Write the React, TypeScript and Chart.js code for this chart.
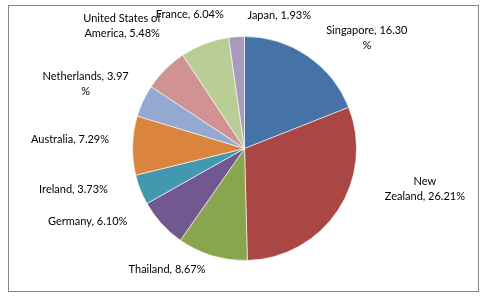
import React, { useEffect, useRef } from "react";
import { Chart, registerables } from "chart.js";

Chart.register(...registerables);

const categories = [
  "Singapore",
  "New Zealand",
  "Thailand",
  "Germany",
  "Ireland",
  "Australia",
  "Netherlands",
  "United States of America",
  "France",
  "Japan",
];
const values = [16.3, 26.21, 8.67, 6.1, 3.73, 7.29, 3.97, 5.48, 6.04, 1.93];
const colors = [
  "#4572A7",
  "#AA4643",
  "#89A54E",
  "#71588F",
  "#4198AF",
  "#DB843D",
  "#93A9CF",
  "#D19392",
  "#B9CD96",
  "#A99BBD",
];
// line break position in each label (character index; negative = from end; null = none)
const labelBreaks: (number | null)[] = [-1, 3, null, null, null, null, -1, 16, null, null];
// label placement: angle (deg, clockwise from top) and distance as multiple of radius
const labelAngles = [48, 102.5, 212.7, 245, 256.5, 273, 292, 315, 337.7, 14.6];
const labelDists = [1.47, 1.65, 1.28, 1.545, 1.57, 1.56, 1.53, 1.545, 1.29, 1.23];

const labelPlugin = {
  id: "excelLabels",
  afterDatasetsDraw(chart: any) {
    const meta = chart.getDatasetMeta(0);
    const ctx = chart.ctx;
    ctx.save();
    ctx.font = "11px Lato";
    ctx.fillStyle = "#000";
    ctx.textAlign = "center";
    ctx.textBaseline = "middle";
    meta.data.forEach((arc: any, i: number) => {
      const { x, y, outerRadius } = arc.getProps(["x", "y", "outerRadius"], true);
      const text = `${categories[i]}, ${values[i].toFixed(2)}%`;
      let lines = [text];
      const b = labelBreaks[i];
      if (b !== null) {
        const idx = b < 0 ? text.length + b : b;
        lines = [text.slice(0, idx).trim(), text.slice(idx).trim()];
      }
      const a = (labelAngles[i] * Math.PI) / 180;
      const d = labelDists[i] * outerRadius;
      const cx = x + d * Math.sin(a);
      const cy = y - d * Math.cos(a);
      const lh = 15;
      const y0 = cy - ((lines.length - 1) * lh) / 2;
      lines.forEach((ln, k) => ctx.fillText(ln, cx, y0 + k * lh));
    });
    ctx.restore();
  },
};

export default function App() {
  const ref = useRef<HTMLCanvasElement>(null);
  useEffect(() => {
    const chart = new Chart(ref.current!, {
      type: "pie",
      data: {
        labels: categories,
        datasets: [
          {
            data: values,
            backgroundColor: colors,
            borderColor: "rgba(255,255,255,0.6)",
            borderWidth: 1,
            radius: 112,
          },
        ],
      },
      options: {
        animation: false,
        responsive: false,
        layout: { padding: { top: 29, bottom: 29, left: 2, right: 0 } },
        plugins: {
          legend: { display: false },
          tooltip: { enabled: false },
        },
      },
      plugins: [labelPlugin],
    });
    return () => chart.destroy();
  }, []);
  return (
    <div
      style={{
        position: "absolute",
        left: 8,
        top: 5,
        width: 471,
        height: 287,
        border: "1px solid #868686",
        boxSizing: "border-box",
        background: "#fff",
      }}
    >
      <canvas ref={ref} width={469} height={285} style={{ display: "block" }} />
    </div>
  );
}
